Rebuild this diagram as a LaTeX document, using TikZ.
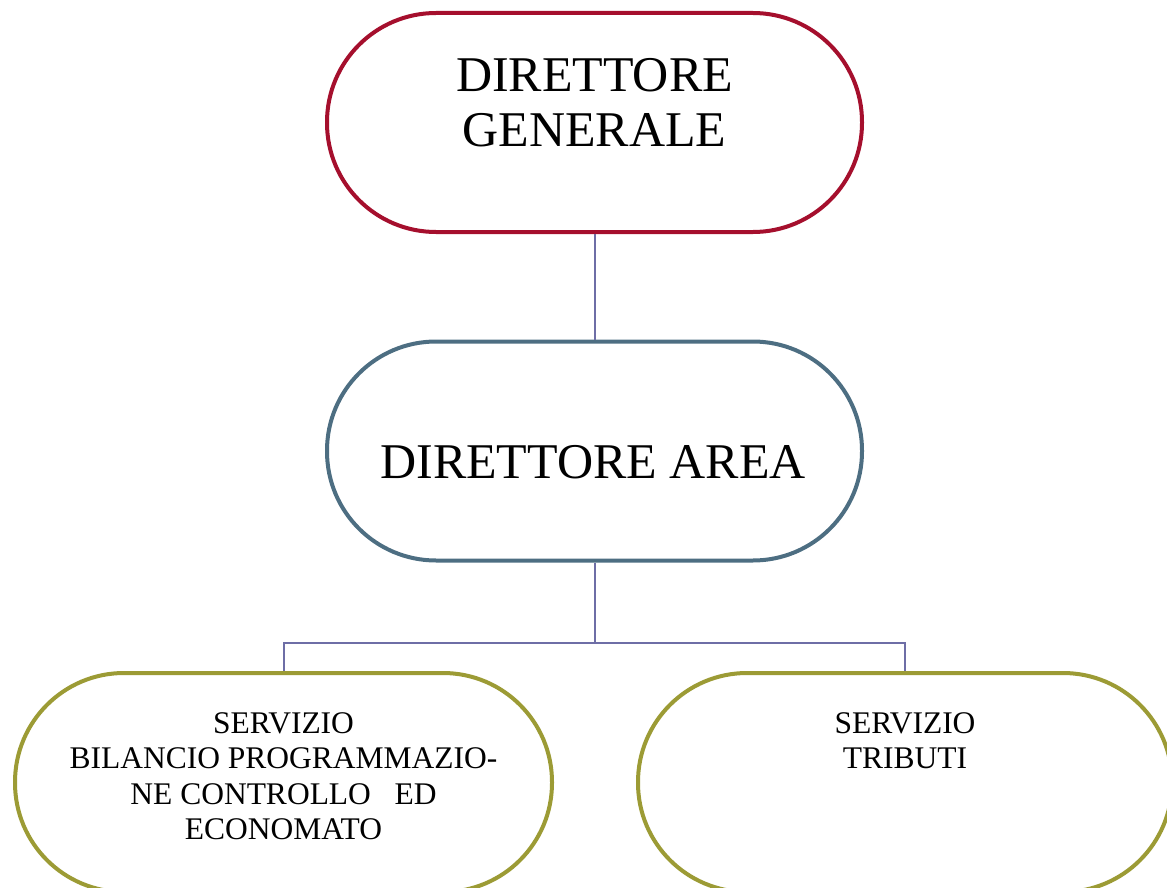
\documentclass[tikz,border=0pt]{standalone}
\usepackage{fontspec}
\setmainfont{Liberation Serif}
\usetikzlibrary{positioning}

\definecolor{capored}{HTML}{A50F2D}
\definecolor{areablue}{HTML}{4D6E82}
\definecolor{servolive}{HTML}{9C9B35}
\definecolor{linkviolet}{HTML}{6E6EA6}

\begin{document}
\begin{tikzpicture}[x=1pt,y=-1pt,
	pill/.style={rectangle, rounded corners=109pt, line width=4pt, fill=white,
		minimum width=535pt, minimum height=219pt, inner sep=0pt},
	bigtext/.style={font=\fontsize{50}{55}\selectfont, align=center, inner sep=0pt},
	smalltext/.style={font=\fontsize{31.5}{35.5}\selectfont, align=center, inner sep=0pt},
	link/.style={draw=linkviolet, line width=2pt}]

	\useasboundingbox (0,0) rectangle (1167,888);
	\clip (0,0) rectangle (1167,888);

	% boxes
	\node[pill, draw=capored] (dg) at (594.5,122.5) {};
	\node[pill, draw=areablue] (da) at (594.5,451) {};
	\node[pill, draw=servolive, minimum width=537pt] (sb) at (283.5,782.5) {};
	\node[pill, draw=servolive, minimum width=534pt] (st) at (905,782.5) {};

	% texts
	\node[bigtext, anchor=north] (dgtext) at (594.5,58) {DIRETTORE\\GENERALE};
	\node[bigtext, anchor=base] (datext) at (593,478) {DIRETTORE AREA};
	\node[smalltext, anchor=north] (sbtext) at (283.5,712)
		{SERVIZIO\\BILANCIO PROGRAMMAZIO-\\NE CONTROLLO\ \ \ ED\\ECONOMATO};
	\node[smalltext, anchor=north] (sttext) at (905,712) {SERVIZIO\\TRIBUTI};

	% links
	\coordinate (fork) at (594.5,643);
	\draw[link] (dg.south) -- (da.north);
	\draw[link] (da.south) -- (fork);
	\draw[link] (sb.north) |- (fork) -| (st.north);

\end{tikzpicture}
\end{document}
